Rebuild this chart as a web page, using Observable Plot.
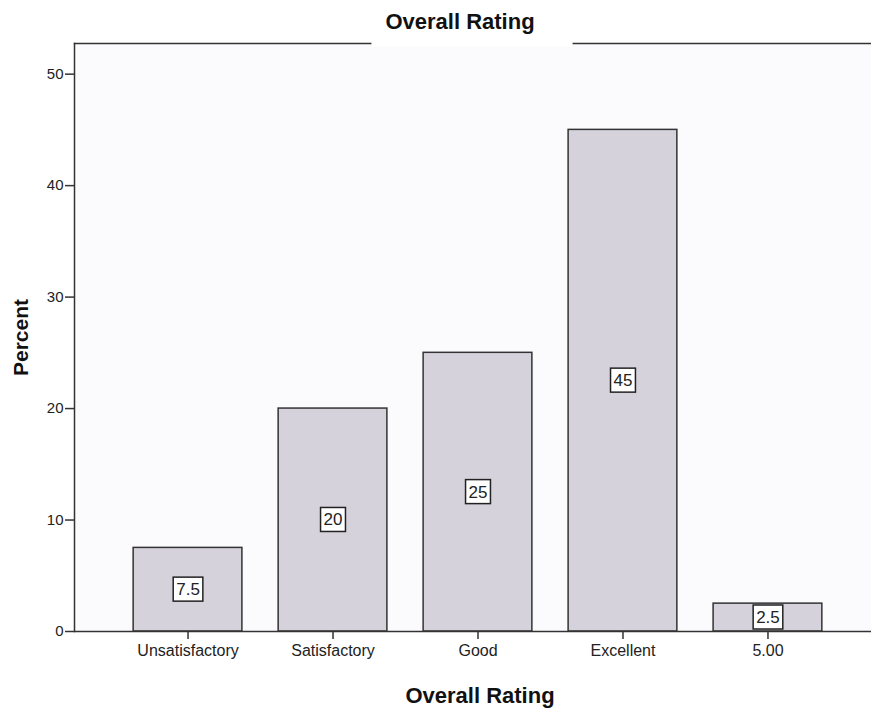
<!DOCTYPE html>
<html>
<head>
<meta charset="utf-8">
<script src="https://cdn.jsdelivr.net/npm/d3@7"></script>
<script src="https://cdn.jsdelivr.net/npm/@observablehq/plot@0.6"></script>
<style>
  html, body { margin: 0; padding: 0; background: #fff; }
  #chart { width: 871px; height: 712px; }
</style>
</head>
<body>
<div id="chart"></div>
<script>
const categories = ["Unsatisfactory", "Satisfactory", "Good", "Excellent", "5.00"];
const percents = [7.5, 20, 25, 45, 2.5];
const valueLabels = ["7.5", "20", "25", "45", "2.5"];
const yTicks = [0, 10, 20, 30, 40, 50];

const data = categories.map((c, i) => ({category: c, percent: percents[i], label: valueLabels[i]}));

const W = 871, H = 712;
const mL = 74, mT = 43, mB = 81;
const titleDy = -30;
const font = "Liberation Sans, Arial, sans-serif";

const plot = Plot.plot({
  width: W,
  height: H,
  marginLeft: mL,
  marginRight: 0,
  marginTop: mT,
  marginBottom: mB,
  style: {fontFamily: font, fontSize: "16px", color: "#222", background: "transparent", overflow: "visible"},
  x: {domain: categories, range: [mL, 881], round: false, paddingInner: 0.25, paddingOuter: 0.408, label: null},
  y: {domain: [0, 52.75], label: null},
  marks: [
    Plot.frame({fill: "#fbfafd", stroke: null}),
    Plot.barY(data, {x: "category", y: "percent", fill: "#d5d2dc", stroke: "#333", strokeWidth: 1.5}),
    Plot.frame({anchor: "left", stroke: "#333", strokeWidth: 1.5}),
    Plot.frame({anchor: "top", stroke: "#333", strokeWidth: 1.5}),
    Plot.ruleY([0], {stroke: "#333", strokeWidth: 1.5}),
    Plot.axisY({ticks: yTicks, tickSize: 9, tickPadding: 2, fontSize: 15, stroke: "#333", strokeWidth: 1.5}),
    Plot.axisX({tickSize: 8, tickPadding: 5, fontSize: 16, stroke: "#333", strokeWidth: 1.5}),
    Plot.text(data, {x: "category", y: d => d.percent / 2, text: "label", fontSize: 17, fill: "#222", className: "vlabel"}),
    Plot.text(["Overall Rating"], {frameAnchor: "top", dx: -13, dy: titleDy, fontSize: 22, fontWeight: "bold", fill: "#111", className: "ptitle"}),
    Plot.text(["Overall Rating"], {frameAnchor: "bottom", dx: 7, dy: 71, fontSize: 22, fontWeight: "bold", fill: "#111"}),
    Plot.text(["Percent"], {frameAnchor: "left", dx: -53, rotate: -90, textAnchor: "middle", fontSize: 21, fontWeight: "bold", fill: "#111"})
  ]
});

document.getElementById("chart").appendChild(plot);

const svg = d3.select(plot);
// white gap in the top border behind the title
svg.selectAll(".ptitle text").each(function() {
  const b = this.getBBox();
  d3.select(this.parentNode).insert("rect", "text")
    .attr("transform", this.getAttribute("transform"))
    .attr("x", b.x - 14).attr("y", -titleDy - 3).attr("width", b.width + 52).attr("height", 6)
    .attr("fill", "#fff");
});
// boxes around the value labels
svg.selectAll(".vlabel text").each(function() {
  const b = this.getBBox();
  d3.select(this.parentNode).insert("rect", "text")
    .attr("transform", this.getAttribute("transform"))
    .attr("x", b.x - 3).attr("y", b.y - 3).attr("width", b.width + 6).attr("height", b.height + 5)
    .attr("fill", "#fff").attr("stroke", "#222").attr("stroke-width", 1.5);
});
svg.selectAll(".vlabel").each(function() { d3.select(this).selectAll("rect").lower(); });
</script>
</body>
</html>
